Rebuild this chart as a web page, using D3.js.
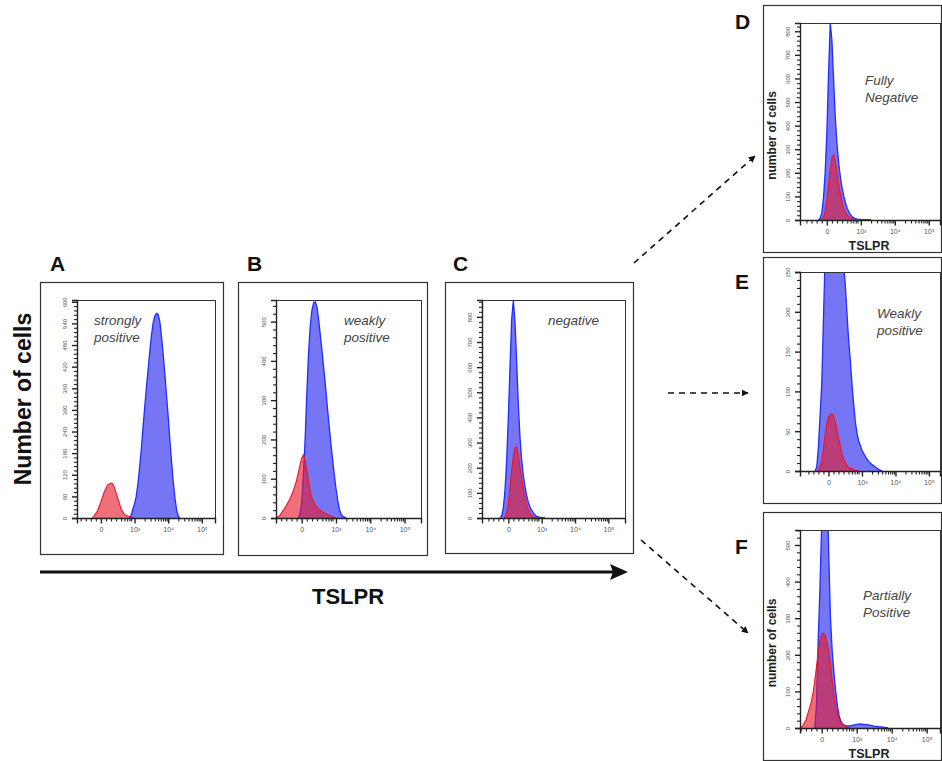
<!DOCTYPE html>
<html>
<head>
<meta charset="utf-8">
<script src="https://cdn.jsdelivr.net/npm/d3@7"></script>
<style>
  body { margin: 0; background: #fff; }
  svg { display: block; font-family: "Liberation Sans", Arial, sans-serif; }
</style>
</head>
<body>
<svg id="fig" width="942" height="761"></svg>
<script>
// x positions are in "display decades": 0 = the "0" tick, 1 = 10³, 2 = 10⁴, 3 = 10⁵
const xTickValues = [0, 1, 2, 3];
const xTickLabels = ["0", "10³", "10⁴", "10⁵"];

// A - strongly positive
const aBlue = [[0.85,0],[0.9,8],[0.95,25],[1.0,40],[1.05,60],[1.1,95],[1.15,140],[1.2,190],[1.25,250],[1.3,305],[1.35,360],[1.4,410],[1.45,460],[1.5,505],[1.55,540],[1.6,560],[1.65,568],[1.7,565],[1.75,545],[1.8,505],[1.85,455],[1.9,400],[1.95,340],[2.0,280],[2.05,215],[2.1,155],[2.15,100],[2.2,55],[2.25,22],[2.3,5],[2.35,0]];
const aRed = [[-0.25,0],[-0.2,6],[-0.1,20],[0.0,45],[0.1,72],[0.2,92],[0.3,97],[0.35,95],[0.4,85],[0.5,55],[0.6,25],[0.7,10],[0.8,5],[0.9,2],[1.0,0]];
const aYTicks = [0, 60, 120, 180, 240, 300, 360, 420, 480, 540, 600];

// B - weakly positive
const bBlue = [[-0.1,0],[-0.05,10],[0.0,40],[0.05,110],[0.1,200],[0.15,320],[0.2,420],[0.25,490],[0.3,530],[0.35,548],[0.4,550],[0.45,535],[0.5,500],[0.55,460],[0.6,420],[0.65,375],[0.7,330],[0.75,280],[0.8,235],[0.85,190],[0.9,150],[0.95,110],[1.0,75],[1.05,45],[1.1,22],[1.15,10],[1.2,4],[1.3,0]];
const bRed = [[-0.75,0],[-0.65,5],[-0.55,18],[-0.45,32],[-0.35,48],[-0.25,68],[-0.15,96],[-0.05,135],[0.0,152],[0.05,161],[0.1,145],[0.15,122],[0.2,92],[0.25,68],[0.3,50],[0.4,32],[0.5,22],[0.6,16],[0.7,11],[0.8,7],[0.9,3],[1.0,0]];
const bYTicks = [0, 100, 200, 300, 400, 500];

// C - negative
const cBlue = [[-0.25,0],[-0.2,8],[-0.15,40],[-0.1,110],[-0.05,230],[0.0,400],[0.05,600],[0.1,790],[0.15,865],[0.2,780],[0.25,620],[0.3,450],[0.35,320],[0.4,230],[0.45,170],[0.5,125],[0.55,90],[0.6,62],[0.65,44],[0.7,30],[0.75,20],[0.8,12],[0.85,6],[0.95,2],[1.1,0]];
const cRed = [[-0.12,0],[-0.05,20],[0.0,55],[0.05,120],[0.1,190],[0.15,245],[0.2,278],[0.25,284],[0.3,250],[0.35,200],[0.4,155],[0.45,115],[0.5,80],[0.55,52],[0.6,32],[0.65,18],[0.7,8],[0.8,2],[0.9,0]];
const cYTicks = [0, 100, 200, 300, 400, 500, 600, 700, 800];

// D - fully negative
const dBlue = [[-0.25,0],[-0.2,6],[-0.15,30],[-0.1,90],[-0.05,200],[0.0,370],[0.05,620],[0.1,835],[0.15,760],[0.2,590],[0.25,430],[0.3,320],[0.35,240],[0.4,180],[0.45,135],[0.5,100],[0.55,72],[0.6,50],[0.65,34],[0.7,22],[0.75,14],[0.8,8],[0.9,4],[1.0,3],[1.2,2],[1.3,0]];
const dRed = [[-0.2,0],[-0.1,10],[-0.05,35],[0.0,80],[0.05,150],[0.1,215],[0.15,265],[0.2,276],[0.25,250],[0.3,200],[0.35,150],[0.4,110],[0.45,75],[0.5,50],[0.55,32],[0.6,20],[0.7,8],[0.8,2],[0.9,0]];
const dYTicks = [0, 100, 200, 300, 400, 500, 600, 700, 800];

// E - weakly positive
const eBlue = [[-0.4,0],[-0.35,5],[-0.3,30],[-0.25,70],[-0.2,110],[-0.15,190],[-0.1,270],[-0.05,340],[0.0,400],[0.05,440],[0.1,460],[0.15,460],[0.2,440],[0.25,410],[0.3,370],[0.35,330],[0.4,290],[0.45,260],[0.5,235],[0.55,200],[0.6,165],[0.65,140],[0.7,110],[0.75,85],[0.8,62],[0.85,48],[0.9,38],[1.0,26],[1.1,18],[1.2,12],[1.3,8],[1.4,5],[1.5,2],[1.6,0]];
const eRed = [[-0.32,0],[-0.25,5],[-0.2,12],[-0.15,28],[-0.1,45],[-0.05,60],[0.0,68],[0.05,70],[0.1,72],[0.15,70],[0.2,62],[0.25,52],[0.3,42],[0.35,32],[0.4,22],[0.45,15],[0.5,10],[0.6,4],[0.7,3],[0.8,1],[0.9,0]];
const eYTicks = [0, 50, 100, 150, 200, 250];

// F - partially positive
const fBlue = [[-0.2,0],[-0.15,60],[-0.1,240],[-0.05,380],[0.0,560],[0.05,800],[0.1,900],[0.15,700],[0.2,480],[0.25,300],[0.3,210],[0.35,150],[0.4,100],[0.45,60],[0.5,32],[0.55,18],[0.6,10],[0.7,6],[0.8,6],[0.9,8],[1.0,10],[1.1,11],[1.2,10],[1.3,9],[1.4,7],[1.5,5],[1.6,4],[1.7,3],[1.8,2],[1.9,0]];
const fRed = [[-0.6,0],[-0.55,5],[-0.45,22],[-0.38,45],[-0.3,70],[-0.24,100],[-0.17,150],[-0.1,209],[-0.05,240],[0.0,255],[0.05,259],[0.1,252],[0.15,235],[0.2,210],[0.25,175],[0.3,130],[0.35,90],[0.4,58],[0.45,38],[0.5,24],[0.55,15],[0.6,9],[0.7,4],[0.8,0]];
const fYTicks = [0, 100, 200, 300, 400, 500];

const panels = [
  {id: "A", outer: [40, 282, 223, 554], inner: [77, 300, 215, 518], xDom: [-0.71, 3.39], yMax: 605, yTicks: aYTicks,
   blue: aBlue, red: aRed, note: ["strongly", "positive"], noteXY: [94, 325], letterXY: [50, 271], small: false},
  {id: "B", outer: [238, 282, 427, 555], inner: [276, 300, 421, 518], xDom: [-0.75, 3.48], yMax: 555, yTicks: bYTicks,
   blue: bBlue, red: bRed, note: ["weakly", "positive"], noteXY: [344, 325], letterXY: [247, 271], small: false},
  {id: "C", outer: [445, 282, 633, 553], inner: [482, 300, 625, 518], xDom: [-0.79, 3.5], yMax: 867, yTicks: cYTicks,
   blue: cBlue, red: cRed, note: ["negative"], noteXY: [548, 325], letterXY: [453, 271], small: false},
  {id: "D", outer: [763, 5, 941, 252], inner: [800, 23, 940, 220], xDom: [-0.79, 3.33], yMax: 835, yTicks: dYTicks,
   blue: dBlue, red: dRed, note: ["Fully", "Negative"], noteXY: [865, 85], letterXY: [735, 29], small: true},
  {id: "E", outer: [763, 257, 941, 503], inner: [800, 272, 940, 471], xDom: [-0.85, 3.33], yMax: 250, yTicks: eYTicks,
   blue: eBlue, red: eRed, note: ["Weakly", "positive"], noteXY: [877, 318], letterXY: [735, 289], small: false},
  {id: "F", outer: [763, 512, 941, 760], inner: [800, 530, 940, 728], xDom: [-0.62, 3.38], yMax: 541, yTicks: fYTicks,
   blue: fBlue, red: fRed, note: ["Partially", "Positive"], noteXY: [863, 600], letterXY: [735, 554], small: true}
];

const svg = d3.select("#fig");
const defs = svg.append("defs");

defs.append("marker")
  .attr("id", "dashHead")
  .attr("viewBox", "0 0 10 10")
  .attr("refX", 9).attr("refY", 5)
  .attr("markerWidth", 7).attr("markerHeight", 7)
  .attr("markerUnits", "userSpaceOnUse")
  .attr("orient", "auto")
  .append("path").attr("d", "M0,0 L10,5 L0,10 Z").attr("fill", "#111");

// minor x ticks, log style inside each decade
const minorX = [-0.6, -0.45, -0.3, -0.15, 0.15, 0.3, 0.45, 0.6, 0.7, 0.78, 0.85, 0.9];
[1, 2].forEach(k => [2, 3, 4, 5, 6, 7, 8, 9].forEach(m => minorX.push(k + Math.log10(m))));

panels.forEach(p => {
  const [ox0, oy0, ox1, oy1] = p.outer;
  const [ix0, iy0, ix1, iy1] = p.inner;

  svg.append("rect")
    .attr("x", ox0 + 0.5).attr("y", oy0 + 0.5)
    .attr("width", ox1 - ox0).attr("height", oy1 - oy0)
    .attr("fill", "none").attr("stroke", "#333").attr("stroke-width", 1.2);

  svg.append("text")
    .attr("x", p.letterXY[0]).attr("y", p.letterXY[1])
    .attr("font-size", 21).attr("font-weight", "bold").attr("fill", "#111")
    .text(p.id);

  const x = d3.scaleLinear().domain(p.xDom).range([ix0, ix1]);
  const y = d3.scaleLinear().domain([0, p.yMax]).range([iy1, iy0]);

  const clipId = "clip" + p.id;
  defs.append("clipPath").attr("id", clipId)
    .append("rect").attr("x", ix0).attr("y", iy0).attr("width", ix1 - ix0).attr("height", iy1 - iy0);

  const g = svg.append("g").attr("clip-path", "url(#" + clipId + ")");
  const area = d3.area().x(d => x(d[0])).y0(y(0)).y1(d => y(d[1]));
  const line = d3.line().x(d => x(d[0])).y(d => y(d[1]));

  g.append("path").datum(p.blue).attr("d", area).attr("fill", "#7676f5");
  g.append("path").datum(p.blue).attr("d", line).attr("fill", "none")
    .attr("stroke", "#1f2dff").attr("stroke-width", 1.3);
  g.append("path").datum(p.red).attr("d", area).attr("fill", "rgb(228,24,44)").attr("fill-opacity", 0.62);
  g.append("path").datum(p.red).attr("d", line).attr("fill", "none")
    .attr("stroke", "#ee1525").attr("stroke-width", 1.1);

  svg.append("rect")
    .attr("x", ix0 + 0.5).attr("y", iy0 + 0.5)
    .attr("width", ix1 - ix0).attr("height", iy1 - iy0)
    .attr("fill", "none").attr("stroke", "#333").attr("stroke-width", 1);

  // y axis: major ticks with rotated tiny labels, plus minor ticks
  const yStep = p.yTicks[1] - p.yTicks[0];
  const yMinor = [];
  p.yTicks.forEach(t => [1, 2, 3, 4].forEach(j => {
    const v = t + j * yStep / 5;
    if (v < p.yMax) yMinor.push(v);
  }));
  svg.append("g")
    .attr("transform", "translate(" + ix0 + ",0)")
    .call(d3.axisLeft(y).tickValues(yMinor).tickSize(3).tickFormat(""))
    .call(a => a.select(".domain").remove())
    .call(a => a.selectAll("line").attr("stroke", "#222").attr("stroke-width", 1.1));
  const ya = svg.append("g")
    .attr("transform", "translate(" + ix0 + ",0)")
    .call(d3.axisLeft(y).tickValues(p.yTicks).tickSize(5).tickPadding(3))
    .call(a => a.select(".domain").attr("stroke", "#222").attr("stroke-width", 1.4));
  ya.selectAll("line").attr("stroke", "#222").attr("stroke-width", 1.4);
  ya.selectAll("text")
    .attr("font-size", 6).attr("fill", "#555").attr("font-family", "Liberation Sans, Arial, sans-serif")
    .attr("text-anchor", "middle").attr("dy", 0).attr("x", 0)
    .attr("transform", "translate(-10,0) rotate(-90)");

  // x axis
  const xMinor = minorX.filter(v => v > p.xDom[0] && v < p.xDom[1]);
  svg.append("g")
    .attr("transform", "translate(0," + iy1 + ")")
    .call(d3.axisBottom(x).tickValues(xMinor).tickSize(3.5).tickFormat(""))
    .call(a => a.select(".domain").remove())
    .call(a => a.selectAll("line").attr("stroke", "#222").attr("stroke-width", 1.1));
  const xa = svg.append("g")
    .attr("transform", "translate(0," + iy1 + ")")
    .call(d3.axisBottom(x).tickValues(xTickValues).tickSize(5.5).tickPadding(4)
      .tickFormat((d, i) => xTickLabels[i]))
    .call(a => a.select(".domain").attr("stroke", "#222").attr("stroke-width", 1.4));
  xa.selectAll("line").attr("stroke", "#222").attr("stroke-width", 1.4);
  xa.selectAll("text").attr("font-size", 7).attr("fill", "#555")
    .attr("font-family", "Liberation Sans, Arial, sans-serif");

  // annotation
  const nt = svg.append("text")
    .attr("x", p.noteXY[0]).attr("y", p.noteXY[1])
    .attr("font-size", 13.5).attr("font-style", "italic").attr("fill", "#444");
  p.note.forEach((s, i) => nt.append("tspan")
    .attr("x", p.noteXY[0]).attr("dy", i === 0 ? 0 : 17).text(s));

  if (p.small) {
    svg.append("text")
      .attr("transform", "translate(" + 776 + "," + ((iy0 + iy1) / 2 + 14) + ") rotate(-90)")
      .attr("text-anchor", "middle").attr("font-size", 12).attr("font-weight", "bold").attr("fill", "#222")
      .text("number of cells");
    svg.append("text")
      .attr("x", 869).attr("y", iy1 + 30)
      .attr("text-anchor", "middle").attr("font-size", 12.5).attr("font-weight", "bold").attr("fill", "#222")
      .text("TSLPR");
  }
});

// overall axis titles
svg.append("text")
  .attr("transform", "translate(31,399) rotate(-90)")
  .attr("text-anchor", "middle").attr("font-size", 23).attr("font-weight", "bold").attr("fill", "#111")
  .text("Number of cells");

svg.append("path")
  .attr("d", "M40,572 L614,572")
  .attr("stroke", "#111").attr("stroke-width", 3.2).attr("fill", "none");
svg.append("path")
  .attr("d", "M628,572 L610,564 L613,572 L610,580 Z")
  .attr("fill", "#111");

svg.append("text")
  .attr("x", 348).attr("y", 604)
  .attr("text-anchor", "middle").attr("font-size", 22).attr("font-weight", "bold").attr("fill", "#111")
  .text("TSLPR");

// dashed connector arrows
const connectors = [
  [634, 263, 755, 156],
  [668, 393, 748, 393],
  [641, 540, 748, 633]
];
connectors.forEach(c => {
  svg.append("line")
    .attr("x1", c[0]).attr("y1", c[1]).attr("x2", c[2]).attr("y2", c[3])
    .attr("stroke", "#111").attr("stroke-width", 1.6)
    .attr("stroke-dasharray", "6,5")
    .attr("marker-end", "url(#dashHead)");
});
</script>
</body>
</html>
